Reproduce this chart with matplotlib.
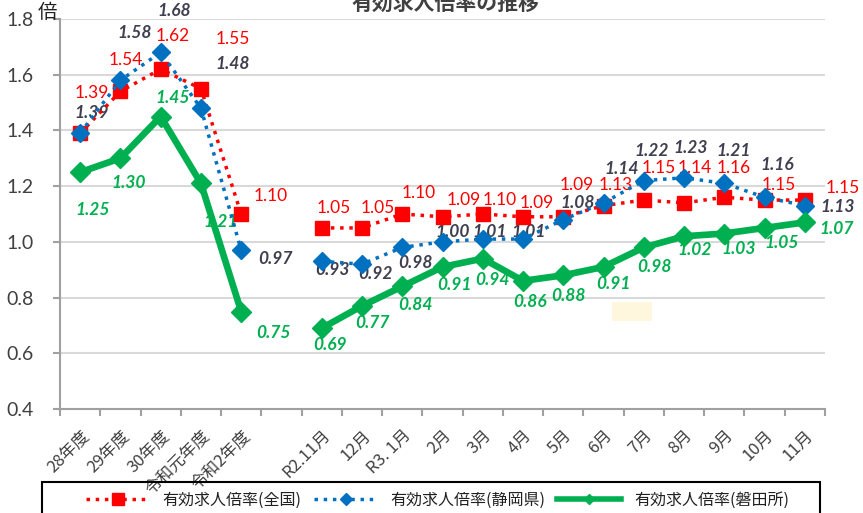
import numpy as np
import matplotlib
matplotlib.use("Agg")
import matplotlib.pyplot as plt
from matplotlib.lines import Line2D
from matplotlib.patches import Rectangle

# ---------------- data ----------------
categories = ["28年度", "29年度", "30年度", "令和元年度", "令和2年度", "",
              "R2.11月", "12月", "R3. 1月", "2月", "3月", "4月", "5月",
              "6月", "7月", "8月", "9月", "10月", "11月"]
nan = np.nan
national = [1.39, 1.54, 1.62, 1.55, 1.10, nan, 1.05, 1.05, 1.10, 1.09, 1.10,
            1.09, 1.09, 1.13, 1.15, 1.14, 1.16, 1.15, 1.15]
shizuoka = [1.39, 1.58, 1.68, 1.48, 0.97, nan, 0.93, 0.92, 0.98, 1.00, 1.01,
            1.01, 1.08, 1.14, 1.22, 1.23, 1.21, 1.16, 1.13]
iwata = [1.25, 1.30, 1.45, 1.21, 0.75, nan, 0.69, 0.77, 0.84, 0.91, 0.94,
         0.86, 0.88, 0.91, 0.98, 1.02, 1.03, 1.05, 1.07]
series_names = ["有効求人倍率(全国)", "有効求人倍率(静岡県)", "有効求人倍率(磐田所)"]
title = "有効求人倍率の推移"
y_unit = "倍"
yticks = [0.4, 0.6, 0.8, 1.0, 1.2, 1.4, 1.6, 1.8]

# label offsets in pixels (dx right, dy down) -- layout only
red_off = [(12, -40), (5, -31), (12, -33), (32, -50), (30, -18), None, (12, -20),
           (16, -20), (16, -21), (21, -17), (17, -14), (14, -14), (13, -32),
           (12, -21), (15, -32), (11, -35), (9, -29), (14, -15), (38, -12)]
blue_off = [(11, -20), (14, -47), (14, -41), (32, -44), (34, 9), None, (11, 9),
            (13, 10), (13, 16), (10, -10), (7, -7), (6, -7), (14, -17),
            (18, -34), (8, -30), (7, -30), (9, -32), (13, -32), (33, 1)]
green_off = [(12, 38), (8, 25), (12, -19), (20, 39), (32, 22), None, (8, 17),
             (10, 17), (13, 19), (12, 18), (10, 21), (7, 21), (5, 21), (10, 17),
             (11, 20), (11, 14), (14, 16), (17, 15), (32, 7)]

RED = "#FF0000"
BLUE = "#0070C0"
GREEN = "#00B050"
DARK = "#3F3F4F"
JP = ["Noto Sans CJK JP", "DejaVu Sans"]
NUM = ["Lato", "DejaVu Sans"]

W, H = 863, 513
fig = plt.figure(figsize=(W / 100, H / 100), dpi=100)
ax = fig.add_axes([60 / W, (H - 409) / H, 765 / W, 390 / H])

x = np.arange(len(categories))
ax.plot(x, national, ls=":", lw=2.5, color=RED, marker="s", ms=10,
        mec=RED, mfc=RED, zorder=3)
ax.plot(x, shizuoka, ls=":", lw=2.5, color=BLUE, marker="D", ms=9.5,
        mec=BLUE, mfc=BLUE, zorder=4)
ax.plot(x, iwata, ls="-", lw=4.8, color=GREEN, marker="D", ms=10,
        mec=GREEN, mfc=GREEN, zorder=5)

def add_labels(vals, offs, color, weight, style):
    for xi, v, o in zip(x, vals, offs):
        if o is None or np.isnan(v):
            continue
        ax.annotate(f"{v:.2f}", (xi, v), xytext=(o[0], -o[1]),
                    textcoords="offset pixels", ha="center", va="center",
                    fontsize=12.5, color=color, fontweight=weight,
                    fontstyle=style, family=NUM, zorder=2,
                    annotation_clip=False)

add_labels(national, red_off, RED, "normal", "normal")
add_labels(shizuoka, blue_off, DARK, "bold", "italic")
add_labels(iwata, green_off, GREEN, "bold", "italic")

ax.set_xlim(-0.5, len(categories) - 0.5)
ax.set_ylim(0.4, 1.8)
ax.set_yticks(yticks)
ax.set_yticklabels([f"{t:.1f}" for t in yticks], family=NUM, fontsize=14,
                   color="#404040")
ax.set_xticks(x)
ax.set_xticklabels(categories, rotation=45, ha="right", va="top",
                   rotation_mode="anchor", family=JP, fontsize=12,
                   color="#404040")
ax.set_xticks(np.arange(-0.5, len(categories), 1), minor=True)
ax.tick_params(axis="x", which="major", length=0, pad=13)
ax.tick_params(axis="x", which="minor", length=5, width=1.5, color="#A0A0A0")
ax.tick_params(axis="y", length=5, width=1.5, color="#A0A0A0", pad=14)

ax.grid(axis="y", color="#D9D9D9", lw=1.5, zorder=0)
ax.set_axisbelow(True)
for s in ["top", "right"]:
    ax.spines[s].set_visible(False)
for s in ["left", "bottom"]:
    ax.spines[s].set_color("#A0A0A0")
    ax.spines[s].set_linewidth(1.5)

# unit and title
fig.text(47 / W, 1 - 12 / H, y_unit, family=JP, fontsize=14, color="#202020",
         ha="center", va="center")
fig.text(445 / W, 1 - 3 / H, title, family=JP, fontsize=15, fontweight="bold",
         color="#404040", ha="center", va="center")

# faint cream patch
fig.add_artist(Rectangle((612 / W, 1 - 321 / H), 40 / W, 19 / H,
                         transform=fig.transFigure, fc="#FFF6DE", ec="none"))

# legend box
fig.add_artist(Rectangle((42 / W, -0.1), 778 / W, 0.1 + 31 / H,
                         transform=fig.transFigure, fc="none", ec="black",
                         lw=1.5, clip_on=False))
handles = [
    Line2D([], [], ls=":", lw=2.5, color=RED, marker="s", ms=8),
    Line2D([], [], ls=":", lw=2.5, color=BLUE, marker="D", ms=6),
    Line2D([], [], ls="-", lw=4, color=GREEN, marker="D", ms=5),
]
fig.legend(handles, series_names, loc="center", ncol=3, mode="expand",
           bbox_to_anchor=(78 / W, 1 - 500 / H, (797 - 78) / W, 0.0),
           frameon=False, borderpad=0, handlelength=4.0, handletextpad=0.8,
           prop={"family": JP, "size": 11.5}, labelcolor="#202020")

fig.savefig("out.png", dpi=100)
